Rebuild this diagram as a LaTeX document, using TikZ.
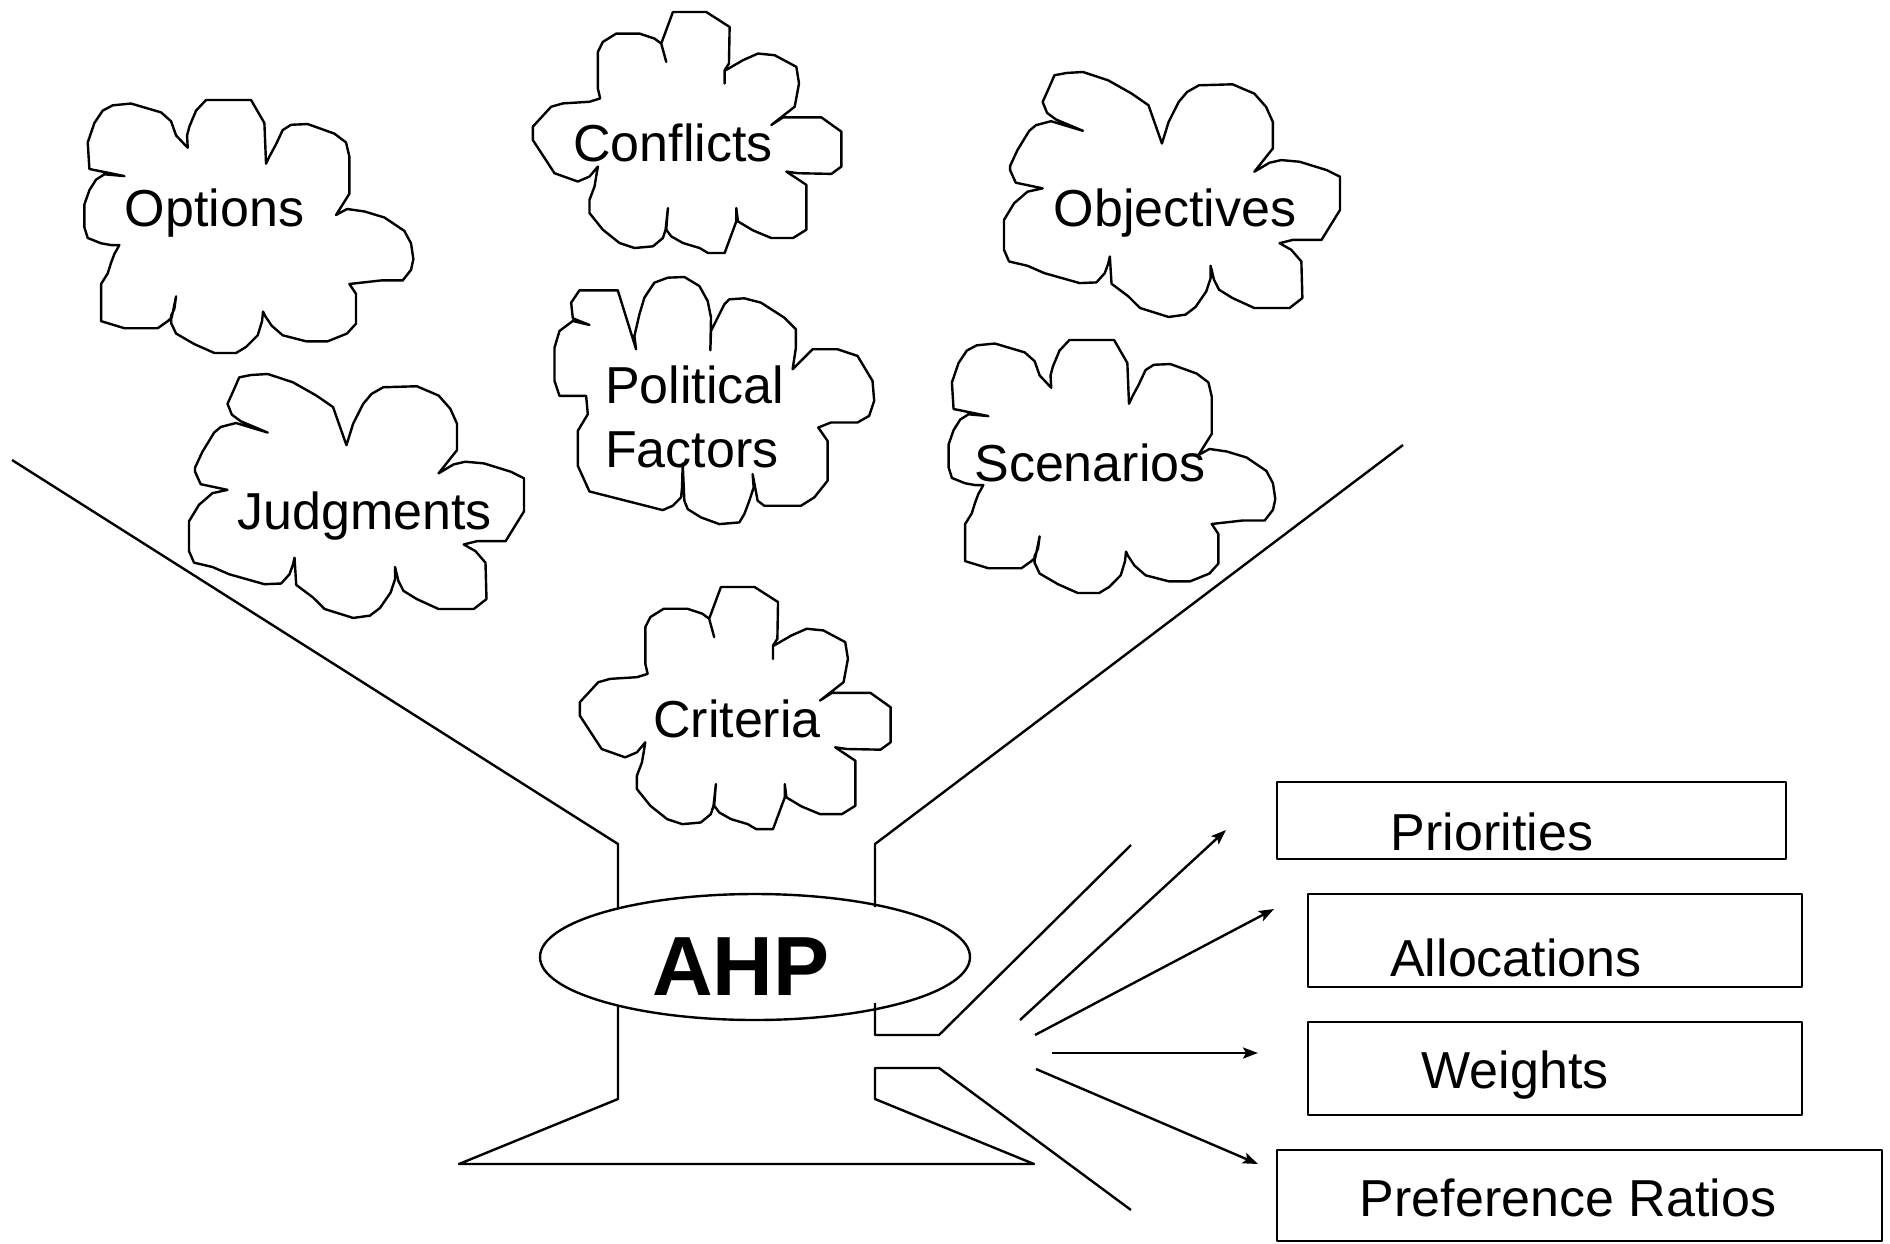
\documentclass[tikz,border=0pt]{standalone}
\usepackage{fontspec}
\setmainfont{Liberation Sans}
\usetikzlibrary{arrows.meta,shapes.geometric}

% cloud outlines, traced in their own box
\def\cloudA{(190,245) -- (85,225) -- (80,150) -- (100,95) -- (125,60) -- (155,45) -- (210,40) -- (300,65) -- (330,90) -- (345,130) -- (380,165) -- (378,130) -- (385,105) -- (405,60) -- (435,30) -- (570,30) -- (610,95) -- (615,210) -- (625,190) -- (645,155) -- (665,115) -- (690,100) -- (740,98) -- (820,125) -- (855,150) -- (865,190) -- (865,295) -- (825,355) -- (858,338) -- (910,345) -- (970,362) -- (1030,400) -- (1050,435) -- (1057,480) -- (1050,510) -- (1025,540) -- (960,540) -- (865,550) -- (885,578) -- (885,662) -- (858,690) -- (800,712) -- (735,712) -- (665,695) -- (632,668) -- (612,640) -- (606,628) -- (603,655) -- (590,695) -- (555,728) -- (525,745) -- (460,745) -- (400,720) -- (345,690) -- (330,660) -- (330,640) -- (340,620) -- (345,585) -- (332,645) -- (320,655) -- (290,675) -- (190,675) -- (120,655) -- (120,550) -- (140,520) -- (150,490) -- (160,465) -- (175,440) -- (150,440) -- (120,435) -- (80,420) -- (70,390) -- (70,325) -- (85,285) -- (105,255) -- (130,240) -- cycle}
\def\cloudB{(145,385) -- (65,368) -- (48,330) -- (48,318) -- (70,270) -- (105,212) -- (125,195) -- (170,183) -- (265,212) -- (185,178) -- (158,158) -- (145,125) -- (165,80) -- (180,45) -- (215,38) -- (265,35) -- (340,60) -- (410,100) -- (460,135) -- (500,250) -- (520,185) -- (550,125) -- (575,95) -- (610,75) -- (710,72) -- (775,100) -- (810,140) -- (830,185) -- (830,265) -- (775,335) -- (820,308) -- (855,300) -- (910,305) -- (990,330) -- (1030,350) -- (1030,450) -- (975,540) -- (890,540) -- (850,550) -- (885,570) -- (915,605) -- (918,715) -- (880,745) -- (775,745) -- (710,715) -- (670,690) -- (655,660) -- (645,618) -- (645,655) -- (632,695) -- (600,742) -- (570,765) -- (520,772) -- (435,745) -- (400,710) -- (350,672) -- (345,590) -- (340,612) -- (330,640) -- (305,668) -- (255,670) -- (150,640) -- (100,618) -- (45,605) -- (30,570) -- (30,480) -- (60,430) -- (100,395) -- cycle}
\def\cloudC{(40,420) -- (40,380) -- (95,320) -- (130,310) -- (210,305) -- (242,295) -- (235,265) -- (235,155) -- (250,125) -- (290,100) -- (360,100) -- (405,115) -- (425,130) -- (440,185) -- (425,130) -- (460,35) -- (560,35) -- (630,80) -- (628,190) -- (615,210) -- (615,250) -- (615,212) -- (670,180) -- (715,160) -- (765,165) -- (830,200) -- (838,250) -- (825,320) -- (755,375) -- (790,352) -- (905,352) -- (965,395) -- (965,500) -- (935,522) -- (835,520) -- (800,515) -- (860,555) -- (860,690) -- (820,715) -- (755,715) -- (700,692) -- (655,665) -- (650,625) -- (650,665) -- (615,760) -- (565,760) -- (540,745) -- (490,730) -- (455,710) -- (440,690) -- (445,625) -- (438,690) -- (430,715) -- (400,740) -- (345,745) -- (300,730) -- (250,690) -- (210,640) -- (210,600) -- (225,560) -- (235,500) -- (210,530) -- (175,545) -- (105,520) -- cycle}
\def\cloudD{(125,385) -- (45,385) -- (30,340) -- (30,240) -- (45,190) -- (85,160) -- (135,172) -- (85,152) -- (80,105) -- (105,68) -- (220,68) -- (275,245) -- (270,205) -- (285,140) -- (300,90) -- (330,45) -- (370,30) -- (420,28) -- (465,55) -- (490,100) -- (500,150) -- (498,248) -- (500,190) -- (540,110) -- (555,95) -- (600,92) -- (650,105) -- (720,150) -- (755,185) -- (755,240) -- (745,305) -- (805,245) -- (880,245) -- (940,265) -- (985,340) -- (990,400) -- (975,445) -- (940,465) -- (860,465) -- (822,480) -- (850,520) -- (850,640) -- (810,690) -- (770,715) -- (660,715) -- (640,700) -- (625,620) -- (628,660) -- (615,700) -- (600,740) -- (585,765) -- (525,770) -- (470,750) -- (430,725) -- (420,700) -- (415,588) -- (413,660) -- (410,690) -- (385,715) -- (355,728) -- (135,672) -- (100,595) -- (100,490) -- (130,440) -- cycle}

\begin{document}
\begin{tikzpicture}[x=0.5pt,y=-0.5pt, line width=1.2pt, line join=round,
	>={Stealth[length=7.5pt,width=5.5pt,inset=1.5pt]},
	font=\fontsize{26pt}{31pt}\selectfont,
	txt/.style={anchor=base, inner sep=0pt},
	outbox/.style={draw, rectangle, inner sep=0pt}]
	\useasboundingbox (0,0) rectangle (1890,1243);
	% clouds
	\draw[shift={(84.4,100)}, xscale=.3333, yscale=.3538, shift={(-70,-30)}] \cloudA;
	\draw[shift={(948.6,340)}, xscale=.331, yscale=.3538, shift={(-70,-30)}] \cloudA;
	\draw[shift={(1004,72)}, xscale=.336, yscale=.3324, shift={(-30,-35)}] \cloudB;
	\draw[shift={(189,374)}, xscale=.335, yscale=.331, shift={(-30,-35)}] \cloudB;
	\draw[shift={(532.8,12)}, xscale=.3336, yscale=.3324, shift={(-40,-35)}] \cloudC;
	\draw[shift={(579.8,587)}, xscale=.336, yscale=.334, shift={(-40,-35)}] \cloudC;
	\draw[shift={(554.5,277)}, xscale=.333, yscale=.333, shift={(-30,-28)}] \cloudD;
	\node[txt] (opt) at (214.5,226) {Options};
	\node[txt] (con) at (673,161) {Conflicts};
	\node[txt] (obj) at (1175,226) {Objectives};
	\node[txt] (jud) at (364.5,529) {Judgments};
	\node[txt] (sce) at (1090,481) {Scenarios};
	\node[txt] (cri) at (737,737) {Criteria};
	\node[txt, anchor=base west] (pol) at (604,403) {Political};
	\node[txt, anchor=base west] (fac) at (604,467) {Factors};
	% funnel
	\node[draw, ellipse, inner sep=0pt, minimum width=215pt, minimum height=63pt] (ahp) at (755,957) {};
	\node[txt, font=\fontsize{42pt}{50pt}\selectfont\bfseries] (ahpT) at (741,995) {AHP};
	\draw (12,460) -- (618,844) -- (618,908);
	\draw (618,1006) -- (618,1099) -- (459,1164) -- (1034,1164) -- (875,1099) -- (875,1068) -- (939,1068) -- (1131,1210);
	\draw (1403,445) -- (875,844) -- (875,907);
	\draw (875,1003) -- (875,1035) -- (939,1035) -- (1131,845);
	% results
	\node[outbox, minimum width=254.5pt, minimum height=38.5pt] (pri) at (1531.5,820.5) {};
	\node[outbox, minimum width=247pt, minimum height=46.5pt] (all) at (1555,940.5) {};
	\node[outbox, minimum width=247pt, minimum height=46.5pt] (wei) at (1555,1068.5) {};
	\node[outbox, minimum width=302.5pt, minimum height=45.5pt] (pre) at (1579.5,1195.5) {};
	\node[txt] (priT) at (1492,850) {Priorities};
	\node[txt] (allT) at (1516,976) {Allocations};
	\node[txt] (weiT) at (1515,1088) {Weights};
	\node[txt] (preT) at (1568,1216) {Preference Ratios};
	\coordinate (p0) at (1020,1020); \coordinate (p1) at (1226,830);
	\coordinate (a0) at (1035,1035); \coordinate (a1) at (1274,909);
	\coordinate (w0) at (1052,1053); \coordinate (w1) at (1258,1053);
	\coordinate (r0) at (1036,1069); \coordinate (r1) at (1258,1164);
	\foreach \s/\e in {p0/p1,a0/a1,w0/w1,r0/r1}
		\draw[->] (\s) -- (\e);
\end{tikzpicture}
\end{document}
